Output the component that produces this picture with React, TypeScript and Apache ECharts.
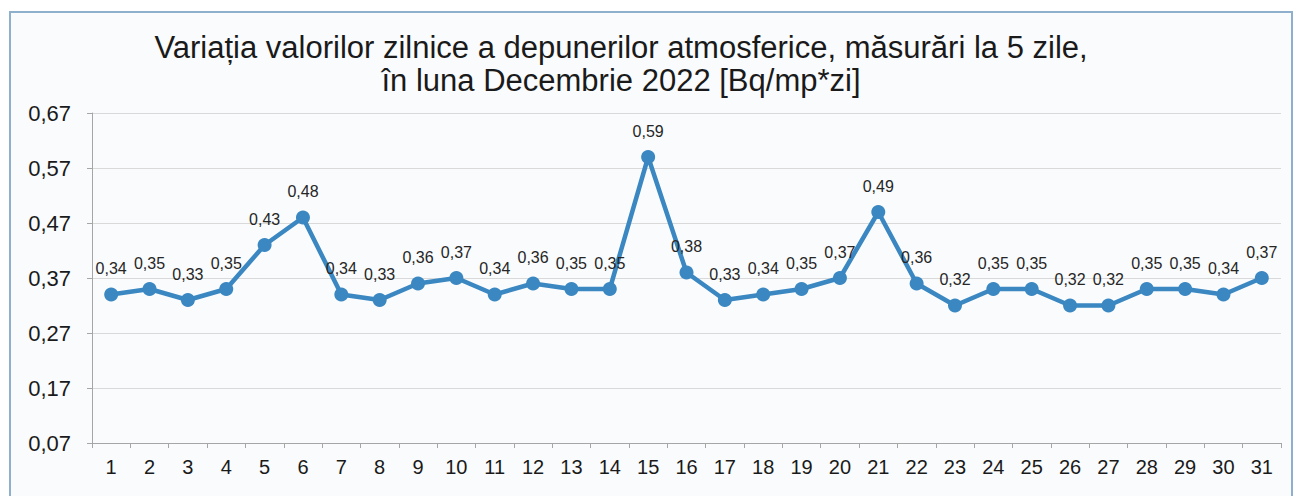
import React, { useEffect, useRef } from "react";
import * as echarts from "echarts";

const days: string[] = [
  "1","2","3","4","5","6","7","8","9","10","11","12","13","14","15","16",
  "17","18","19","20","21","22","23","24","25","26","27","28","29","30","31",
];
const values: number[] = [
  0.34, 0.35, 0.33, 0.35, 0.43, 0.48, 0.34, 0.33, 0.36, 0.37, 0.34, 0.36, 0.35, 0.35, 0.59, 0.38,
  0.33, 0.34, 0.35, 0.37, 0.49, 0.36, 0.32, 0.35, 0.35, 0.32, 0.32, 0.35, 0.35, 0.34, 0.37,
];
const titleLines: string[] = [
  "Variația valorilor zilnice a depunerilor atmosferice, măsurări la 5 zile,",
  "în luna Decembrie 2022 [Bq/mp*zi]",
];
const yMin = 0.07;
const yMax = 0.67;
const yStep = 0.1;

const fmt = (v: number) => v.toFixed(2).replace(".", ",");

export default function App() {
  const ref = useRef<HTMLDivElement>(null);
  useEffect(() => {
    if (!ref.current) return;
    const chart = echarts.init(ref.current, undefined, { renderer: "svg" });
    const font = "'Liberation Sans', Arial, sans-serif";
    chart.setOption({
      animation: false,
      backgroundColor: "#ffffff",
      textStyle: { fontFamily: font },
      graphic: [
        {
          type: "rect",
          shape: { x: 10, y: 12, width: 1282, height: 490 },
          style: { fill: "#f9fbfd", stroke: "#8fb0cc", lineWidth: 2 },
          z: -10,
        },
      ],
      title: {
        text: titleLines.join("\n"),
        left: 616,
        textAlign: "center",
        top: 26,
        textStyle: {
          fontFamily: font,
          fontSize: 31,
          fontWeight: "normal",
          color: "#1a1a1a",
          lineHeight: 33,
        },
      },
      grid: { left: 92, right: 18, top: 113, bottom: 53, containLabel: false },
      xAxis: {
        type: "category",
        data: days,
        boundaryGap: true,
        axisLine: { lineStyle: { color: "#a6a6a6", width: 1 } },
        axisTick: { show: true, alignWithLabel: false, length: 5, lineStyle: { color: "#a6a6a6" } },
        axisLabel: { color: "#1a1a1a", fontSize: 20, margin: 14, fontFamily: font },
      },
      yAxis: {
        type: "value",
        min: yMin,
        max: yMax,
        interval: yStep,
        axisLine: { show: true, lineStyle: { color: "#a6a6a6" } },
        axisTick: { show: true, length: 5, lineStyle: { color: "#a6a6a6" } },
        axisLabel: {
          color: "#1a1a1a",
          fontSize: 22,
          margin: 21,
          fontFamily: font,
          formatter: (v: number) => fmt(v),
        },
        splitLine: { show: true, lineStyle: { color: "#d9d9d9", width: 1 } },
      },
      series: [
        {
          type: "line",
          data: values,
          symbol: "circle",
          symbolSize: 14,
          lineStyle: { color: "#3a87c1", width: 4.5 },
          itemStyle: { color: "#3a87c1" },
          label: {
            show: true,
            position: "top",
            distance: 11,
            fontSize: 16,
            color: "#262626",
            fontFamily: font,
            formatter: (p: any) => fmt(p.value),
          },
        },
      ],
    });
    return () => chart.dispose();
  }, []);
  return (
    <div
      ref={ref}
      style={{ position: "fixed", left: 0, top: 0, width: 1299, height: 496 }}
    />
  );
}
